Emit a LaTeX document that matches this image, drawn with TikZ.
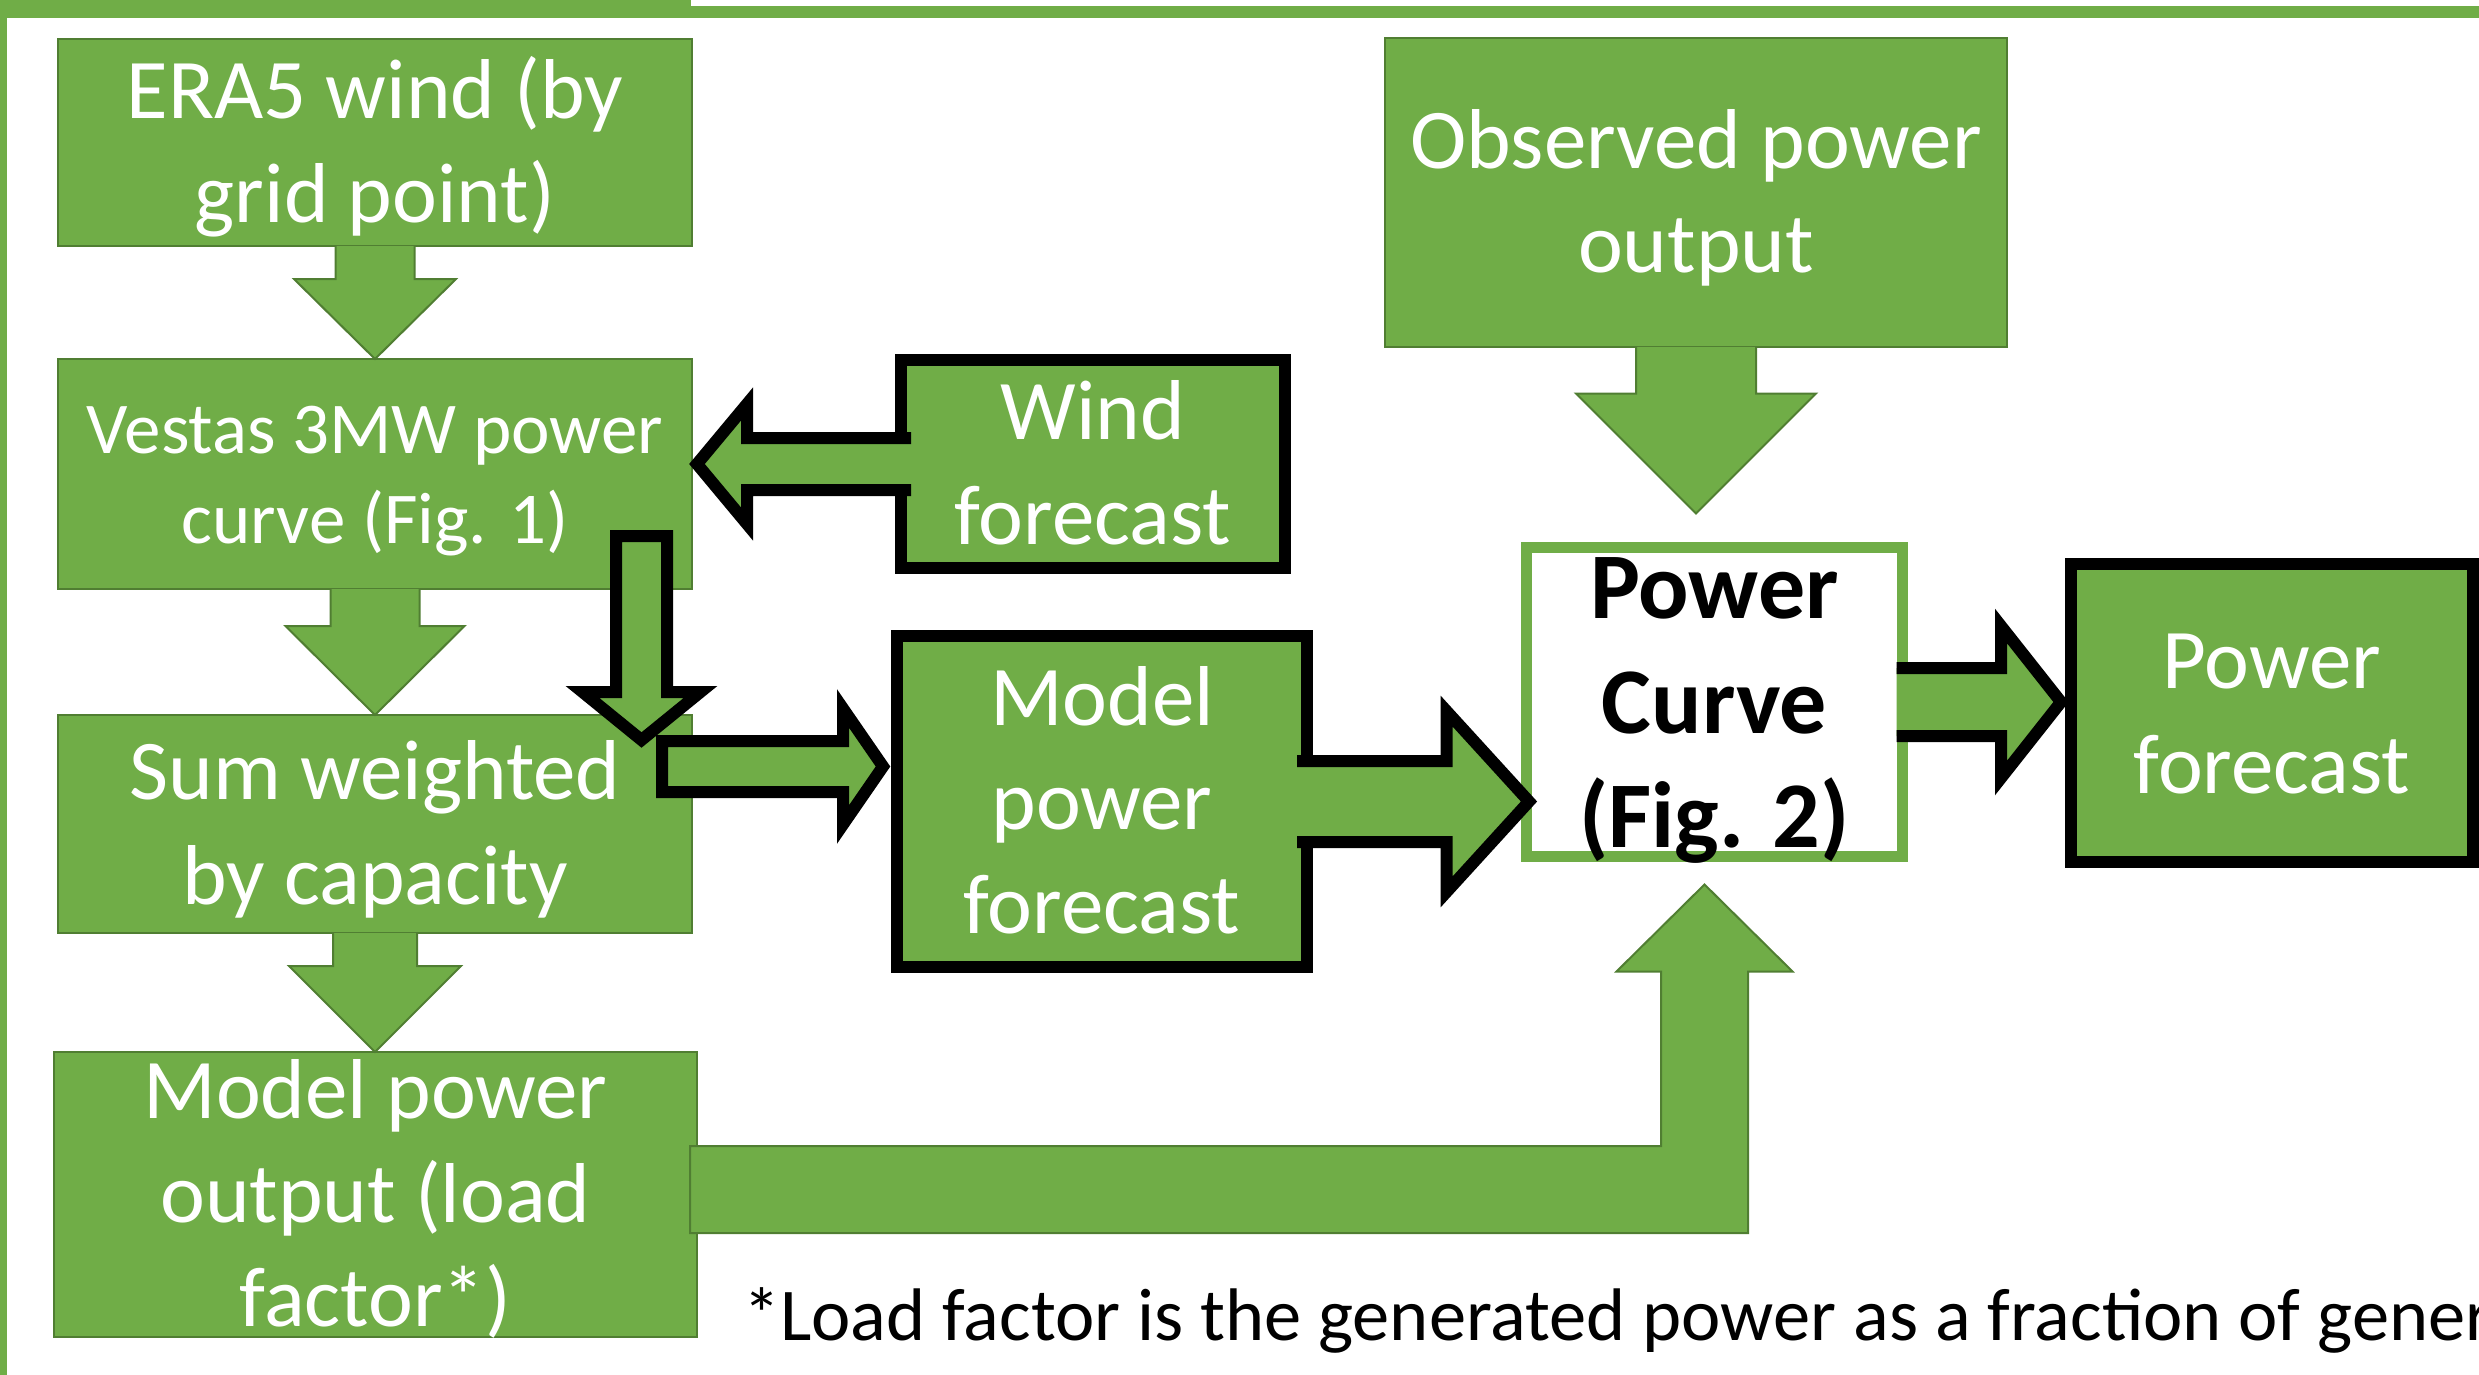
\documentclass[tikz,border=0pt]{standalone}
\usepackage{fontspec}
\setmainfont{Carlito}
\usepackage{tikz}
\usetikzlibrary{calc}
\definecolor{leaf}{HTML}{70AD47}
\definecolor{leafdark}{HTML}{507E32}
\newcommand{\boxstrut}{\rule[-0.28em]{0pt}{1.22em}}
\newcommand{\bodyfont}{\fontsize{85}{103.7}\selectfont}
\newcommand{\smallbody}{\fontsize{73}{89}\selectfont}
\newcommand{\notebody}{\fontsize{74.5}{90}\selectfont}
\newcommand{\curvefont}{\fontsize{94}{114.7}\selectfont\bfseries}

\begin{document}
\begin{tikzpicture}
        [   x = 1pt
        ,   y = -1pt
        ,   box/.style =
            {   draw = leafdark
            ,   fill = leaf
            ,   line width = 2pt
            ,   text = white
            ,   font = \bodyfont
            ,   align = flush center
            ,   inner xsep = 0pt
            ,   inner ysep = -40pt
            ,   outer sep = 0pt
            ,   execute at begin node = \boxstrut
            ,   execute at end node = \boxstrut
            }
        ,   boxsize/.style 2 args = {minimum width = #1, text width = #1, minimum height = #2}
        ,   heavybox/.style = {box, draw = black, line width = 12pt}
        ,   curvebox/.style =
            {   box
            ,   draw = leaf
            ,   fill = white
            ,   line width = 11pt
            ,   text = black
            ,   font = \curvefont
            }
        ,   note/.style = {font = \notebody, inner sep = 0pt, anchor = base west}
        ,   flow/.style = {fill = leaf, draw = leafdark, line width = 2pt}
        ,   heavyflow/.style = {fill = leaf, draw = black, line width = 12pt}
        ,   fat down/.style n args = {3}{to path = {let \p1 = (\tikztostart), \p2 = (\tikztotarget) in
                (\x1-#1pt,\y1) -- (\x1-#1pt,\y2+#3pt) -- (\x1-#2pt,\y2+#3pt) -- (\x1,\y2)
                -- (\x1+#2pt,\y2+#3pt) -- (\x1+#1pt,\y2+#3pt) -- (\x1+#1pt,\y1)}}
        ,   fat right/.style n args = {3}{to path = {let \p1 = (\tikztostart), \p2 = (\tikztotarget) in
                (\x1,\y1+#1pt) -- (\x2-#3pt,\y1+#1pt) -- (\x2-#3pt,\y1+#2pt) -- (\x2,\y1)
                -- (\x2-#3pt,\y1-#2pt) -- (\x2-#3pt,\y1-#1pt) -- (\x1,\y1-#1pt)}}
        ,   fat left/.style n args = {3}{to path = {let \p1 = (\tikztostart), \p2 = (\tikztotarget) in
                (\x1,\y1+#1pt) -- (\x2+#3pt,\y1+#1pt) -- (\x2+#3pt,\y1+#2pt) -- (\x2,\y1)
                -- (\x2+#3pt,\y1-#2pt) -- (\x2+#3pt,\y1-#1pt) -- (\x1,\y1-#1pt)}}
        ,   fat corner/.style n args = {3}{to path = {let \p1 = (\tikztostart), \p2 = (\tikztotarget) in
                (\x1,\y1+#1pt) -- (\x2-#1pt,\y1+#1pt) -- (\x2-#1pt,\y2-#3pt) -- (\x2-#2pt,\y2-#3pt)
                -- (\x2,\y2) -- (\x2+#2pt,\y2-#3pt) -- (\x2+#1pt,\y2-#3pt) -- (\x2+#1pt,\y1-#1pt)
                -- (\x1,\y1-#1pt)}}
        ]
        \useasboundingbox (0,0) rectangle (2479,1375);
        \fill[leaf] (0,0) rectangle (691,17.7);
        \fill[leaf] (0,6) rectangle (2479,17.7);
        \fill[leaf] (0,0) rectangle (7,1375);

        \node[box, boxsize = {634}{207}] (era5) at (375,142.5)
            {ERA5 wind (by\\grid point)};
        \node[box, font = \smallbody, boxsize = {634}{230}] (vestas) at (375,474)
            {Vestas 3MW power\\curve (Fig. 1)};
        \node[box, boxsize = {634}{218}] (sum) at (375,824)
            {Sum weighted\\by capacity};
        \node[box, boxsize = {643}{285}] (output) at (375.5,1194.5)
            {Model power\\output (load\\factor*)};
        \node[box, boxsize = {622}{309}] (observed) at (1696,192.5)
            {Observed power\\output};
        \node[heavybox, boxsize = {384}{208}] (wind) at (1093,464)
            {Wind\\forecast};
        \node[heavybox, boxsize = {410}{331}] (forecast) at (1102,801.5)
            {Model\\power\\forecast};
        \node[curvebox, boxsize = {376}{309}] (curve) at (1714.5,702)
            {Power\\Curve\\(Fig. 2)};
        \node[heavybox, boxsize = {402}{298}] (powerfc) at (2272,713)
            {Power\\forecast};
        \node[note] (footnote) at (743,1340)
            {*Load factor is the generated power as a fraction of gener};

        \draw[flow] (era5.south) to[fat down = {39.5}{81}{80}] (vestas.north);
        \draw[flow] (vestas.south) to[fat down = {44.5}{89.5}{89}] (sum.north);
        \draw[flow] (sum.south) to[fat down = {42}{86}{86}] (output.north);
        \draw[flow] (observed.south) to[fat down = {60}{120}{120}] ($(curve.north)+(0,-34)$);
        \draw[flow] ($(output.east)+(-7,-5)$) to[fat corner = {43.5}{88}{87}] ($(curve.south)+(-10,28)$) -- cycle;

        \draw[heavyflow] ($(wind.west)+(10,0)$) to[fat left = {26}{60}{50}] ($(vestas.east)+(5,0)$);
        \draw[heavyflow] ($(sum.east)+(-30,-57.5)$) to[fat right = {25.5}{58}{40}] ($(forecast.west)+(-14,0)$) -- cycle;
        \draw[heavyflow] ($(vestas.south)+(266.5,-53)$) to[fat down = {25.5}{59}{48}] ($(sum.north)+(0,25)$) -- cycle;
        \draw[heavyflow] ($(forecast.east)+(-10,0)$) to[fat right = {40.5}{90.5}{82.5}] ($(curve.west)+(2.5,0)$);
        \draw[heavyflow] ($(curve.east)+(-6,0)$) to[fat right = {34}{76}{60}] ($(powerfc.west)+(-10,0)$);
\end{tikzpicture}
\end{document}
